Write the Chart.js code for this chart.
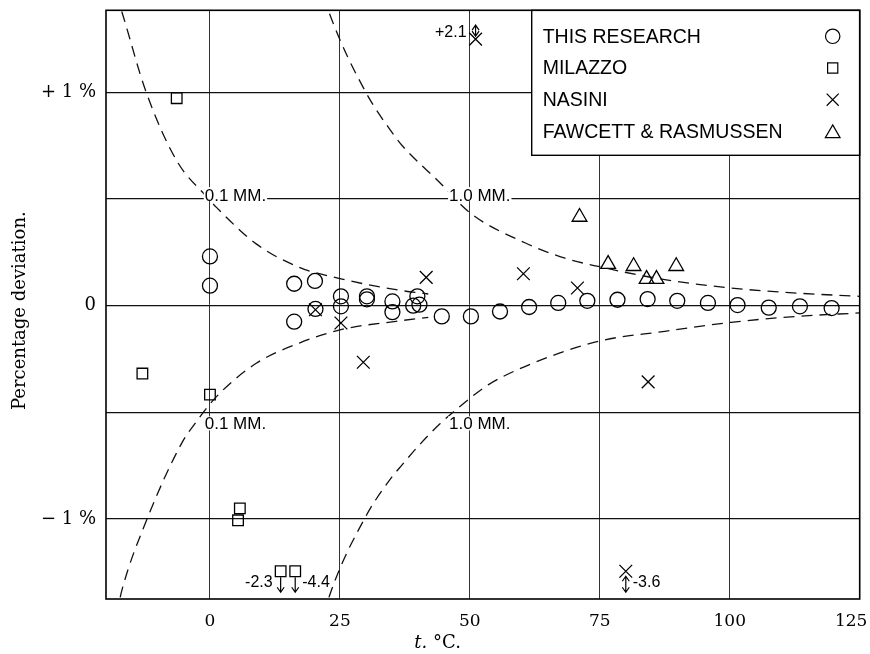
<!DOCTYPE html>
<html>
<head>
<meta charset="utf-8">
<title>Percentage deviation</title>
<script src="https://cdn.jsdelivr.net/npm/chart.js@4.4.1/dist/chart.umd.min.js"></script>
<style>
  html, body { margin: 0; padding: 0; background: #fff; }
  canvas { display: block; }
</style>
</head>
<body>
<canvas id="grafica" width="870" height="654"></canvas>
<script>
// Datos: t en °C, desviación en %
const xTicks = [0, 25, 50, 75, 100, 125];
// el último lleva un espacio para que no se salga del lienzo
const xTickLabels = ['0', '25', '50', '75', '100', '125\u2003'];
const yTicks = [-1, -0.5, 0, 0.5, 1];
const yTickLabels = ['\u2212 1 %', '', '0', '', '+ 1 %'];

const thisT   = [0, 0, 16.2, 16.2, 20.2, 20.3, 25.2, 25.2, 30.2, 30.2, 35.1, 35.1, 39.1, 39.9, 40.3, 44.6, 50.2, 55.8, 61.4, 67.0, 72.6, 78.4, 84.2, 89.9, 95.8, 101.5, 107.5, 113.5, 119.6];
const thisDev = [0.231, 0.094, 0.103, -0.075, 0.116, -0.015, 0.044, -0.003, 0.044, 0.03, 0.02, -0.03, 0.0, 0.044, 0.005, -0.05, -0.05, -0.027, -0.006, 0.013, 0.023, 0.028, 0.031, 0.023, 0.013, 0.003, -0.009, -0.003, -0.011];

const milazzoT   = [-13, -6.4, 0, 5.4, 5.75];
const milazzoDev = [-0.318, 0.973, -0.417, -1.006, -0.95];
// fuera de escala (se marcan con flecha)
const milazzoOffT      = [13.6, 16.4];
const milazzoOffDev    = [-2.3, -4.4];
const milazzoOffLabels = ['-2.3', '-4.4'];

const nasiniT   = [20.3, 25.2, 29.5, 41.6, 60.3, 70.7, 84.3];
const nasiniDev = [-0.019, -0.081, -0.265, 0.133, 0.150, 0.083, -0.357];
const nasiniOffT      = [51.1, 80.0];
const nasiniOffDev    = [2.1, -3.6];
const nasiniOffLabels = ['+2.1', '-3.6'];

const fawcettT   = [71.1, 76.6, 81.5, 84.0, 85.9, 89.7];
const fawcettDev = [0.416, 0.195, 0.185, 0.125, 0.125, 0.185];

// curvas de error de 0.1 mm y 1.0 mm
const curvaSup01T   = [-18, -16.6, -12.4, -6.4, -0.6, 1.3, 8.9, 17.2, 25.2, 35.8, 42];
const curvaSup01Dev = [1.46, 1.35, 1.01, 0.68, 0.51, 0.46, 0.29, 0.18, 0.126, 0.075, 0.055];
const curvaInf01T   = [-18, -16.9, -12.1, -5.4, -2.5, 1.3, 8.9, 17.2, 25.2, 35.8, 42];
const curvaInf01Dev = [-1.45, -1.33, -1.0, -0.643, -0.54, -0.425, -0.27, -0.175, -0.112, -0.073, -0.055];
const curvaSup10T   = [22, 23, 30, 35.4, 37, 44.1, 50.1, 60.7, 68.3, 74.7, 87.5, 100.2, 113, 125];
const curvaSup10Dev = [1.45, 1.37, 1.0, 0.80, 0.75, 0.58, 0.434, 0.294, 0.223, 0.184, 0.122, 0.083, 0.059, 0.044];
const curvaInf10T   = [22, 23, 30, 35.1, 37, 40.2, 44.2, 49.2, 53.6, 60.7, 74.7, 87.5, 100.2, 113, 125];
const curvaInf10Dev = [-1.45, -1.36, -0.987, -0.80, -0.745, -0.655, -0.555, -0.45, -0.37, -0.284, -0.167, -0.12, -0.078, -0.05, -0.034];

const mmLabels = ['0.1 MM.', '1.0 MM.'];
const mmLabelT = [-1, 46];

const canvas = document.getElementById('grafica');
const ctx = canvas.getContext('2d');

const serif = '"DejaVu Serif", serif';
const sans = '"Liberation Sans", Arial, sans-serif';

// los valores fuera de escala se dibujan en el borde
const bordeBajo = -1.245, bordeAlto = 1.25;
const recortar = v => Math.max(bordeBajo, Math.min(bordeAlto, v));
const puntos = (ts, vs) => ts.map((t, i) => ({ x: t, y: vs[i] }));

function dibujarMarca(c, estilo, x, y, r) {
  c.beginPath();
  if (estilo === 'circle') {
    c.arc(x, y, r, 0, Math.PI * 2);
  } else if (estilo === 'rect') {
    const s = r * Math.SQRT1_2;
    c.rect(x - s, y - s, 2 * s, 2 * s);
  } else if (estilo === 'crossRot') {
    const s = r * Math.SQRT1_2;
    c.moveTo(x - s, y - s); c.lineTo(x + s, y + s);
    c.moveTo(x + s, y - s); c.lineTo(x - s, y + s);
  } else if (estilo === 'triangle') {
    const h = r * Math.sin(Math.PI / 3);
    c.moveTo(x, y - r); c.lineTo(x + h, y + r / 2); c.lineTo(x - h, y + r / 2); c.closePath();
  }
  c.stroke();
}

function flecha(c, x, y1, y2, arriba, abajo) {
  c.beginPath();
  c.moveTo(x, y1); c.lineTo(x, y2);
  if (arriba) { c.moveTo(x - 3.5, y1 + 5); c.lineTo(x, y1); c.lineTo(x + 3.5, y1 + 5); }
  if (abajo) { c.moveTo(x - 3.5, y2 - 5); c.lineTo(x, y2); c.lineTo(x + 3.5, y2 - 5); }
  c.stroke();
}

const decoracion = {
  id: 'decoracion',
  beforeDraw(chart) {
    const c = chart.ctx;
    c.save();
    c.fillStyle = '#fff';
    c.fillRect(0, 0, chart.width, chart.height);
    c.restore();
  },
  afterDatasetsDraw(chart) {
    const c = chart.ctx;
    const a = chart.chartArea;
    const xs = chart.scales.x, ys = chart.scales.y;
    c.save();
    c.strokeStyle = '#000';
    c.fillStyle = '#000';
    c.lineWidth = 1.2;

    // flechas de los valores fuera de escala
    c.font = '16px ' + sans;
    c.textBaseline = 'middle';
    milazzoOffT.forEach((t, i) => {
      const px = xs.getPixelForValue(t), py = ys.getPixelForValue(recortar(milazzoOffDev[i]));
      flecha(c, px, py + 6, py + 21, false, true);
      c.textAlign = i === 0 ? 'right' : 'left';
      c.fillText(milazzoOffLabels[i], i === 0 ? px - 8 : px + 7, py + 11);
    });
    nasiniOffT.forEach((t, i) => {
      const v = nasiniOffDev[i];
      const px = xs.getPixelForValue(t), py = ys.getPixelForValue(recortar(v));
      if (v > 0) {
        flecha(c, px, py - 14, py - 3, true, true);
        c.textAlign = 'right';
        c.fillText(nasiniOffLabels[i], px - 9, py - 7);
      } else {
        flecha(c, px, py + 5, py + 21, true, true);
        c.textAlign = 'left';
        c.fillText(nasiniOffLabels[i], px + 7, py + 11);
      }
    });

    // etiquetas de las curvas
    c.font = '17px ' + sans;
    c.textAlign = 'left';
    c.textBaseline = 'alphabetic';
    mmLabels.forEach((txt, i) => {
      const px = xs.getPixelForValue(mmLabelT[i]);
      const w = c.measureText(txt).width;
      const ySup = ys.getPixelForValue(0.5), yInf = ys.getPixelForValue(-0.5);
      c.fillStyle = '#fff';
      c.fillRect(px - 1, ySup - 12, w + 2, 14);
      c.fillRect(px - 1, yInf + 4, w + 2, 14);
      c.fillStyle = '#000';
      c.fillText(txt, px, ySup + 2);
      c.fillText(txt, px, yInf + 17);
    });

    // leyenda
    const lx = a.right - 328, ly = a.top;
    c.fillStyle = '#fff';
    c.fillRect(lx, ly, a.right - lx, 145);
    c.lineWidth = 1.4;
    c.strokeRect(lx, ly, a.right - lx, 145);
    c.fillStyle = '#000';
    c.font = '19.5px ' + sans;
    c.textBaseline = 'middle';
    c.textAlign = 'left';
    const conMarca = chart.data.datasets.filter(d => d.enLeyenda);
    conMarca.forEach((d, i) => {
      const fy = ly + 26 + i * 31.7;
      c.fillText(d.label, lx + 11, fy + 1);
      c.lineWidth = 1.2;
      const r = d.pointStyle === 'crossRot' ? 8.5 : d.pointStyle === 'triangle' ? 8.5 : 7.2;
      dibujarMarca(c, d.pointStyle, a.right - 27, fy + (d.pointStyle === 'triangle' ? 2 : 0), r);
    });

    // marco
    c.lineWidth = 1.6;
    c.strokeRect(a.left, a.top, a.right - a.left, a.bottom - a.top);

    // títulos de los ejes
    c.font = '18px ' + serif;
    c.textAlign = 'center';
    c.textBaseline = 'middle';
    c.save();
    c.translate(20, (a.top + a.bottom) / 2 + 6);
    c.rotate(-Math.PI / 2);
    c.fillText('Percentage deviation.', 0, 0);
    c.restore();

    const cx = a.left + 0.44 * (a.right - a.left);
    c.font = 'italic 18px ' + serif;
    const w1 = c.measureText('t.').width;
    c.font = '18px ' + serif;
    const w2 = c.measureText(' \u00b0C.').width;
    c.textAlign = 'left';
    c.font = 'italic 18px ' + serif;
    c.fillText('t.', cx - (w1 + w2) / 2, 643);
    c.font = '18px ' + serif;
    c.fillText(' \u00b0C.', cx - (w1 + w2) / 2 + w1, 643);

    c.restore();
  }
};

const estiloCurva = {
  type: 'scatter',
  showLine: true,
  borderColor: '#111',
  borderWidth: 1.3,
  borderDash: [11, 7],
  pointRadius: 0,
  cubicInterpolationMode: 'monotone',
  fill: false
};

const estiloPunto = {
  borderColor: '#000',
  backgroundColor: 'rgba(0,0,0,0)',
  borderWidth: 1.3,
  enLeyenda: true
};

// quitar el relleno que Chart.js reserva para las etiquetas de los extremos
const sinRelleno = eje => {
  eje.paddingLeft = 0; eje.paddingRight = 0;
  eje.paddingTop = 0; eje.paddingBottom = 0;
};

new Chart(ctx, {
  type: 'scatter',
  data: {
    datasets: [
      { ...estiloCurva, label: '0.1 mm +', data: puntos(curvaSup01T, curvaSup01Dev) },
      { ...estiloCurva, label: '0.1 mm -', data: puntos(curvaInf01T, curvaInf01Dev) },
      { ...estiloCurva, label: '1.0 mm +', data: puntos(curvaSup10T, curvaSup10Dev) },
      { ...estiloCurva, label: '1.0 mm -', data: puntos(curvaInf10T, curvaInf10Dev) },
      { ...estiloPunto, label: 'THIS RESEARCH', pointStyle: 'circle', pointRadius: 7.5,
        data: puntos(thisT, thisDev) },
      { ...estiloPunto, label: 'MILAZZO', pointStyle: 'rect', pointRadius: 7.5,
        data: puntos(milazzoT, milazzoDev).concat(puntos(milazzoOffT, milazzoOffDev.map(recortar))) },
      { ...estiloPunto, label: 'NASINI', pointStyle: 'crossRot', pointRadius: 9,
        data: puntos(nasiniT, nasiniDev).concat(puntos(nasiniOffT, nasiniOffDev.map(recortar))) },
      { ...estiloPunto, label: 'FAWCETT & RASMUSSEN', pointStyle: 'triangle', pointRadius: 8.5,
        data: puntos(fawcettT, fawcettDev) }
    ]
  },
  options: {
    responsive: false,
    animation: false,
    devicePixelRatio: 1,
    events: [],
    layout: { padding: { top: 10, right: 8, left: 0, bottom: 0 } },
    plugins: {
      legend: { display: false },
      tooltip: { enabled: false }
    },
    scales: {
      x: {
        type: 'linear',
        min: -20,
        max: 125,
        afterBuildTicks: eje => { eje.ticks = xTicks.map(v => ({ value: v })); },
        afterFit: eje => { eje.height = 55; sinRelleno(eje); },
        border: { display: false },
        grid: { color: '#333', lineWidth: 1, drawTicks: false },
        ticks: {
          color: '#000',
          font: { family: serif, size: 17 },
          padding: 12,
          maxRotation: 0,
          autoSkip: false,
          callback: (v, i) => xTickLabels[i]
        }
      },
      y: {
        type: 'linear',
        min: -1.375,
        max: 1.385,
        afterBuildTicks: eje => { eje.ticks = yTicks.map(v => ({ value: v })); },
        afterFit: eje => { eje.width = 106; sinRelleno(eje); },
        border: { display: false },
        grid: { color: '#111', lineWidth: 1.2, drawTicks: false },
        ticks: {
          color: '#000',
          font: { family: serif, size: 18 },
          padding: 10,
          autoSkip: false,
          callback: (v, i) => yTickLabels[i]
        }
      }
    }
  },
  plugins: [decoracion]
});
</script>
</body>
</html>
